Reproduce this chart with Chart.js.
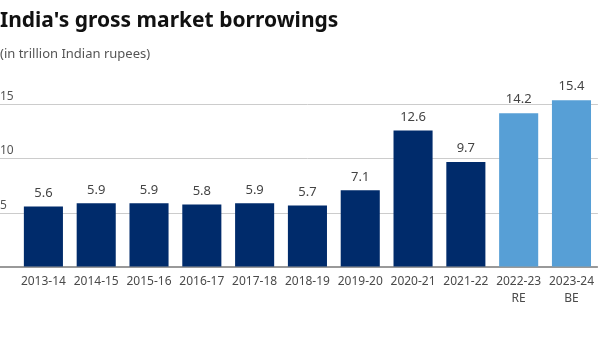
<!DOCTYPE html>
<html>
<head>
<meta charset="utf-8">
<script src="https://cdn.jsdelivr.net/npm/chart.js@4"></script>
<style>
  html, body { margin: 0; padding: 0; background: #fff; }
  #wrap { width: 600px; height: 350px; }
</style>
</head>
<body>
<div id="wrap"><canvas id="grafico"></canvas></div>
<script>
// dados
const anos = ['2013-14', '2014-15', '2015-16', '2016-17', '2017-18', '2018-19', '2019-20', '2020-21', '2021-22', ['2022-23', 'RE'], ['2023-24', 'BE']];
const emprestimos = [5.6, 5.9, 5.9, 5.8, 5.9, 5.7, 7.1, 12.6, 9.7, 14.2, 15.4];
const estimativa = [false, false, false, false, false, false, false, false, false, true, true];
const ticksY = [0, 5, 10, 15];

const corReal = '#002b6b';
const corEstimativa = '#579fd6';

// rótulos em cima das barras
const rotulosBarras = {
  id: 'rotulosBarras',
  afterDatasetsDraw(chart) {
    const ctx = chart.ctx;
    const meta = chart.getDatasetMeta(0);
    ctx.save();
    ctx.font = '13px "Noto Sans"';
    ctx.fillStyle = '#444';
    ctx.textAlign = 'center';
    ctx.textBaseline = 'bottom';
    meta.data.forEach((bar, i) => {
      ctx.fillText(emprestimos[i].toFixed(1), bar.x, bar.y - 7);
    });
    ctx.restore();
  }
};

new Chart(document.getElementById('grafico'), {
  type: 'bar',
  data: {
    labels: anos,
    datasets: [{
      data: emprestimos,
      backgroundColor: estimativa.map(e => e ? corEstimativa : corReal),
      categoryPercentage: 1,
      barPercentage: 0.74
    }]
  },
  options: {
    responsive: true,
    maintainAspectRatio: false,
    animation: false,
    layout: { padding: { top: 0, right: 0, bottom: 37, left: 0 } },
    scales: {
      x: {
        grid: { display: false, drawTicks: false },
        border: { display: false },
        ticks: {
          color: '#4a4a4a',
          font: { family: '"Noto Sans"', size: 12, lineHeight: 1.4 },
          maxRotation: 0,
          autoSkip: false,
          padding: 6
        }
      },
      y: {
        min: 0,
        max: 17,
        afterBuildTicks: scale => {
          scale.ticks = ticksY.map(v => ({ value: v }));
        },
        afterFit: scale => { scale.width = 17; },
        border: { display: false },
        grid: {
          color: c => c.tick && c.tick.value === 0 ? '#999' : '#ccc',
          lineWidth: c => c.tick && c.tick.value === 0 ? 2 : 1,
          tickLength: 17
        },
        ticks: {
          callback: v => v === 0 ? '' : v,
          color: '#555',
          font: { family: '"Noto Sans"', size: 12 },
          crossAlign: 'far',
          padding: 0,
          labelOffset: -8
        }
      }
    },
    plugins: {
      legend: { display: false },
      tooltip: { enabled: false },
      title: {
        display: true,
        text: "India's gross market borrowings",
        align: 'start',
        color: '#111',
        font: { family: '"Noto Sans"', size: 21, weight: 'bold' },
        padding: { top: 8, bottom: 13 }
      },
      subtitle: {
        display: true,
        text: '(in trillion Indian rupees)',
        align: 'start',
        color: '#555',
        font: { family: '"Noto Sans"', size: 13 },
        padding: { top: 0, bottom: 21 }
      }
    }
  },
  plugins: [rotulosBarras]
});
</script>
</body>
</html>
